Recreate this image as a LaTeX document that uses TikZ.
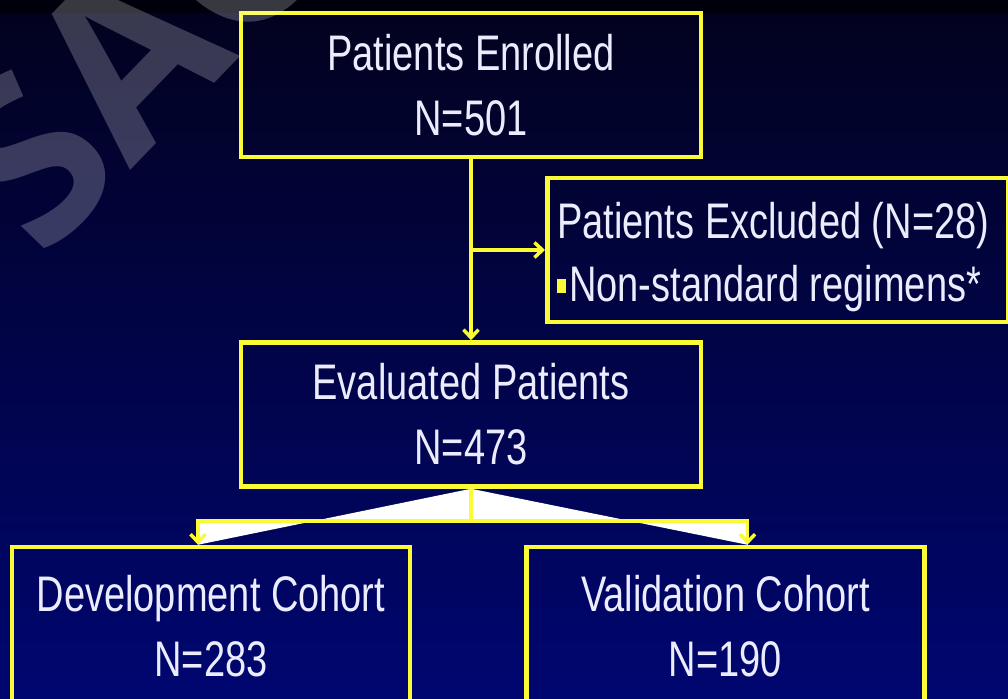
\documentclass[tikz,border=0pt]{standalone}
\usepackage{fontspec}
\setmainfont{Liberation Sans}[FakeStretch=0.76]
\newfontfamily\markfont{Open Sans}
\usetikzlibrary{arrows.meta, positioning}

\definecolor{bgtop}{RGB}{2,2,30}
\definecolor{bgbottom}{RGB}{0,6,112}
\definecolor{lineyellow}{RGB}{250,250,55}
\definecolor{textwhite}{RGB}{236,236,255}

\begin{document}
\begin{tikzpicture}[
    x=1pt, y=-1pt,
    box/.style={
        draw=lineyellow,
        line width=4.5pt,
        text=textwhite,
        align=center,
        minimum width=460pt,
        minimum height=144pt,
        font=\fontsize{50pt}{65pt}\selectfont
    },
    link/.style={draw=lineyellow, line width=3.5pt},
    arrow/.style={link, -{Straight Barb[length=8pt,width=15pt]}},
    node distance=181pt
]

\useasboundingbox (0,0) rectangle (1008,698);
\shade[top color=bgtop, bottom color=bgbottom] (0,0) rectangle (1008,698);
\fill[black, opacity=0.6] (0,0) rectangle (1008,13);

% ------------------------
% Boxes
% ------------------------
\node[box] (enrolled) at (471,85)
{Patients Enrolled\\
N=501};

\node[box, below=of enrolled] (evaluated)
{Evaluated Patients\\
N=473};

\node[
    box,
    anchor=west,
    align=flush left,
    text width=441pt,
    inner xsep=10pt,
    font=\fontsize{50pt}{63pt}\selectfont
] (excluded) at (545,250)
{\rule{0pt}{50pt}Patients Excluded (N=28)\\
\textcolor{lineyellow}{\rule[8pt]{9pt}{14pt}}\hspace{3pt}Non-standard regimens*};

\node[box, minimum width=398pt, minimum height=158pt] (development) at (211,626)
{Development Cohort\\
N=283};

\node[box, minimum width=398pt, minimum height=158pt, right=112pt of development] (validation)
{Validation Cohort\\
N=190};

% ------------------------
% Arrows
% ------------------------
\coordinate (split) at (enrolled.south |- excluded.west);
\coordinate (fork) at ([yshift=-32pt]evaluated.south);
\coordinate (devin) at ([xshift=-13pt]development.north);
\coordinate (valin) at ([xshift=22pt]validation.north);

\fill[white] (evaluated.south) -- (devin) -- (devin |- fork) -- (fork) -- cycle;
\fill[white] (evaluated.south) -- (valin) -- (valin |- fork) -- (fork) -- cycle;

\draw[arrow] (enrolled.south) -- (evaluated.north);
\draw[arrow] (split) -- (excluded.west);
\draw[link] (evaluated.south) -- (fork);
\draw[arrow] (fork) -| (devin);
\draw[arrow] (fork) -| (valin);

% watermark
\node[
    rotate=46,
    anchor=base west,
    text=white,
    opacity=0.22,
    inner sep=0pt,
    font=\markfont\bfseries\fontsize{230pt}{230pt}\selectfont
] (mark) at (42,262) {SAGE};

\end{tikzpicture}
\end{document}
